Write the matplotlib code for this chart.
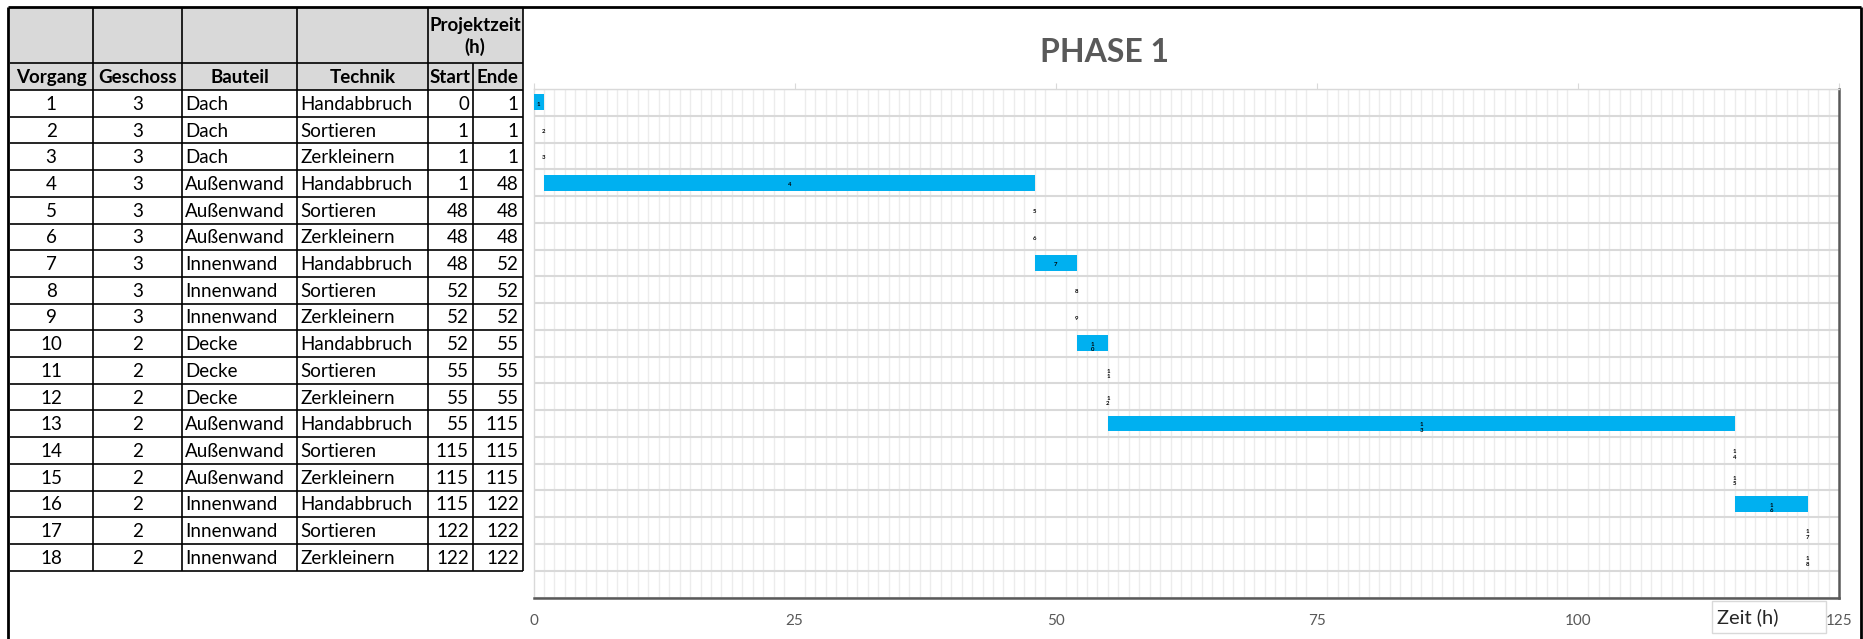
'''
Gantt-Diagramm Phase 1 mit Vorgangstabelle links
'''
import matplotlib.pyplot as plt
from matplotlib.patches import Rectangle

plt.rcParams['font.family'] = ['Lato', 'DejaVu Sans']

# Tabellendaten
vorgang = [1, 2, 3, 4, 5, 6, 7, 8, 9, 10, 11, 12, 13, 14, 15, 16, 17, 18]
geschoss = [3, 3, 3, 3, 3, 3, 3, 3, 3, 2, 2, 2, 2, 2, 2, 2, 2, 2]
bauteil = ["Dach", "Dach", "Dach", "Außenwand", "Außenwand", "Außenwand",
           "Innenwand", "Innenwand", "Innenwand", "Decke", "Decke", "Decke",
           "Außenwand", "Außenwand", "Außenwand", "Innenwand", "Innenwand",
           "Innenwand"]
technik = ["Handabbruch", "Sortieren", "Zerkleinern"] * 6
start = [0, 1, 1, 1, 48, 48, 48, 52, 52, 52, 55, 55, 55, 115, 115, 115, 122, 122]
ende = [1, 1, 1, 48, 48, 48, 52, 52, 52, 55, 55, 55, 115, 115, 115, 122, 122, 122]

headers = ["Vorgang", "Geschoss", "Bauteil", "Technik", "Start", "Ende"]
xticks = [0, 25, 50, 75, 100, 125]

W, H = 1863, 639
GREY = "#595959"


def draw_table(bg):
    """Tabelle links in Pixelkoordinaten zeichnen"""
    cols = [9.5, 92.7, 181.8, 297, 427.7, 472.9, 522.8]
    top, mid, hdr = 8, 63, 90
    rh = 26.7
    bottom = hdr + rh * len(vorgang)

    # grauer Kopf
    bg.add_patch(Rectangle((cols[0], top), cols[-1] - cols[0], hdr - top,
                           facecolor="#d9d9d9", edgecolor="none", zorder=0))

    lw = 1.2
    # horizontale Linien
    bg.hlines([mid, hdr], cols[0], cols[-1], color="black", lw=lw)
    for i in range(1, len(vorgang) + 1):
        bg.hlines(hdr + i * rh, cols[0], cols[-1], color="black", lw=lw)
    # vertikale Linien
    for c in [cols[1], cols[2], cols[3], cols[4], cols[6]]:
        bg.vlines(c, top, bottom, color="black", lw=lw)
    bg.vlines(cols[5], mid, bottom, color="black", lw=lw)

    fs = 13.5
    bg.text((cols[4] + cols[6]) / 2, 25, "Projektzeit", fontsize=fs,
            fontweight="bold", ha="center", va="center")
    bg.text((cols[4] + cols[6]) / 2, 47, "(h)", fontsize=fs,
            fontweight="bold", ha="center", va="center")
    for j, h in enumerate(headers):
        bg.text((cols[j] + cols[j + 1]) / 2, (mid + hdr) / 2 + 1, h,
                fontsize=fs, fontweight="bold", ha="center", va="center")

    for i in range(len(vorgang)):
        y = hdr + (i + 0.5) * rh + 1
        bg.text((cols[0] + cols[1]) / 2, y, str(vorgang[i]), fontsize=fs,
                ha="center", va="center")
        bg.text((cols[1] + cols[2]) / 2, y, str(geschoss[i]), fontsize=fs,
                ha="center", va="center")
        bg.text(cols[2] + 3, y, bauteil[i], fontsize=fs, ha="left", va="center")
        bg.text(cols[3] + 3, y, technik[i], fontsize=fs, ha="left", va="center")
        bg.text(cols[5] - 4, y, str(start[i]), fontsize=fs, ha="right",
                va="center")
        bg.text(cols[6] - 4, y, str(ende[i]), fontsize=fs, ha="right",
                va="center")


def chart(fig):
    # Plotbereich in Pixel
    x0, x1, y0, y1 = 533.5, 1839, 89, 597.5
    ax = fig.add_axes([x0 / W, 1 - y1 / H, (x1 - x0) / W, (y1 - y0) / H])

    ypos = list(range(len(vorgang)))
    width = [e - s for s, e in zip(start, ende)]
    ax.barh(ypos, width, left=start, height=0.59, color="#00b0f0",
            edgecolor="none", zorder=3)

    # kleine Datenbeschriftungen (Vorgangsnummer)
    for i, v in enumerate(vorgang):
        xc = (start[i] + ende[i]) / 2
        lbl = str(v)
        dy = 0.07
        if len(lbl) > 1:
            lbl = "\n".join(lbl)
            dy = 0.15
        ax.text(xc, i + dy, lbl, fontsize=4.3, fontweight="bold",
                color="black", ha="center", va="center", linespacing=1.1,
                zorder=4)

    ax.set_xlim(0, 125)
    ax.set_ylim(len(vorgang) + 0.5, -0.5)

    ax.set_xticks(xticks)
    ax.set_xticks(range(0, 126), minor=True)
    ax.set_yticks([])
    ax.set_yticks([k + 0.5 for k in range(-1, len(vorgang) + 1)], minor=True)

    ax.grid(True, which="minor", axis="x", color="#ececec", lw=1, zorder=0)
    ax.grid(True, which="minor", axis="y", color="#d9d9d9", lw=1.5, zorder=1)
    ax.tick_params(axis="x", which="major", top=True, bottom=False,
                   labelbottom=True, length=4.5, pad=7.5, color="#d9d9d9",
                   labelsize=11, labelcolor=GREY)
    ax.tick_params(which="minor", length=0)

    for s in ["left", "top"]:
        ax.spines[s].set_color("#d9d9d9")
        ax.spines[s].set_linewidth(1)
    for s in ["bottom", "right"]:
        ax.spines[s].set_color(GREY)
        ax.spines[s].set_linewidth(1.8)
    return ax


if __name__ == "__main__":
    fig = plt.figure(figsize=(W / 100, H / 100), dpi=100)
    bg = fig.add_axes([0, 0, 1, 1])
    bg.set_xlim(0, W)
    bg.set_ylim(H, 0)
    bg.axis("off")

    # äußerer Rahmen
    bg.hlines(7, 8, 1861, color="black", lw=2)
    bg.vlines([8, 1861], 7, H, color="black", lw=2)

    draw_table(bg)
    chart(fig)

    bg.text(1104, 52, "PHASE 1", fontsize=23, fontweight="bold", color=GREY,
            ha="center", va="center")

    # Achsentitel im Kasten
    bg.add_patch(Rectangle((1712, 601), 114, 32, facecolor="white",
                           edgecolor="#d9d9d9", lw=1, zorder=5))
    bg.text(1717, 617, "Zeit (h)", fontsize=14.5, color="#262626",
            ha="left", va="center", zorder=6)

    plt.savefig("out.png", dpi=100)
